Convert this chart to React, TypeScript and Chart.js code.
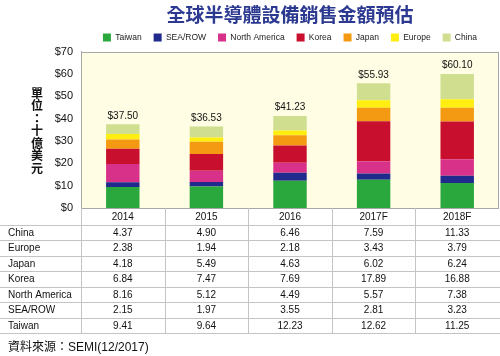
import { useEffect, useRef } from 'react';
import { Chart, registerables } from 'chart.js';

Chart.register(...registerables);

const titleText = '全球半導體設備銷售金額預估';
const yTitleChars = ['單', '位', '：', '十', '億', '美', '元'];
const sourceText = '資料來源：SEMI(12/2017)';

const categories = ['2014', '2015', '2016', '2017F', '2018F'];
const taiwan = [9.41, 9.64, 12.23, 12.62, 11.25];
const seaRow = [2.15, 1.97, 3.55, 2.81, 3.23];
const northAmerica = [8.16, 5.12, 4.49, 5.57, 7.38];
const korea = [6.84, 7.47, 7.69, 17.89, 16.88];
const japan = [4.18, 5.49, 4.63, 6.02, 6.24];
const europe = [2.38, 1.94, 2.18, 3.43, 3.79];
const china = [4.37, 4.9, 6.46, 7.59, 11.33];
const totals = [37.5, 36.53, 41.23, 55.93, 60.1];
const yMin = 0;
const yMax = 70;
const yStep = 10;

const seriesNames = ['Taiwan', 'SEA/ROW', 'North America', 'Korea', 'Japan', 'Europe', 'China'];
const seriesValues = [taiwan, seaRow, northAmerica, korea, japan, europe, china];
const seriesColors = ['#2BA83D', '#1F2A8C', '#D8318A', '#C8102E', '#F39A12', '#FFEE10', '#D0DE90'];
const tableRowOrder = ['China', 'Europe', 'Japan', 'Korea', 'North America', 'SEA/ROW', 'Taiwan'];

const FONT = '"Liberation Sans", Arial, sans-serif';
const CJK = '"Noto Sans CJK TC", "Noto Sans CJK SC", sans-serif';
const MIXED = '"Liberation Sans", "Noto Sans CJK TC", sans-serif';

const plotBgPlugin = {
  id: 'plotBg',
  beforeDraw(chart: any) {
    const { ctx, chartArea } = chart;
    ctx.save();
    ctx.fillStyle = '#FFFFFF';
    ctx.fillRect(0, 0, chart.width, chart.height);
    ctx.fillStyle = '#FFFDE3';
    ctx.fillRect(chartArea.left, chartArea.top, chartArea.right - chartArea.left, chartArea.bottom - chartArea.top);
    ctx.restore();
  },
};

const extrasPlugin = {
  id: 'extras',
  afterDraw(chart: any) {
    const { ctx, chartArea } = chart;
    const { left, right, top, bottom } = chartArea;
    const xs = chart.scales.x;
    const ys = chart.scales.y;
    ctx.save();

    // plot border
    ctx.strokeStyle = '#A8A8A8';
    ctx.lineWidth = 1;
    ctx.strokeRect(Math.round(left) + 0.5, Math.round(top) + 0.5, Math.round(right - left) - 1, Math.round(bottom - top));

    // totals above bars
    ctx.fillStyle = '#111';
    ctx.font = `10px ${FONT}`;
    ctx.textAlign = 'center';
    ctx.textBaseline = 'alphabetic';
    totals.forEach((t, i) => {
      const px = xs.getPixelForValue(i);
      const py = ys.getPixelForValue(t);
      ctx.fillText('$' + t.toFixed(2), px, py - 5.5);
    });

    // data table
    const headerH = 17;
    const rowH = 15.43;
    const tableTop = bottom + headerH;
    const tableBottom = tableTop + rowH * tableRowOrder.length;
    const step = xs.getPixelForValue(1) - xs.getPixelForValue(0);
    ctx.strokeStyle = '#C4C4C4';
    ctx.beginPath();
    for (let r = 0; r <= tableRowOrder.length; r++) {
      const y = Math.round(tableTop + r * rowH) + 0.5;
      ctx.moveTo(0, y);
      ctx.lineTo(chart.width, y);
    }
    for (let i = 0; i < categories.length; i++) {
      const x = Math.round(xs.getPixelForValue(i) - step / 2) + 0.5;
      ctx.moveTo(x, bottom);
      ctx.lineTo(x, tableBottom);
    }
    ctx.stroke();

    ctx.font = `10px ${FONT}`;
    ctx.textBaseline = 'middle';
    ctx.fillStyle = '#111';
    tableRowOrder.forEach((name, r) => {
      const cy = tableTop + r * rowH + rowH / 2 + 0.5;
      ctx.textAlign = 'left';
      ctx.fillText(name, 8, cy);
      const vals = seriesValues[seriesNames.indexOf(name)];
      ctx.textAlign = 'center';
      vals.forEach((v, i) => {
        ctx.fillText(v.toFixed(2), xs.getPixelForValue(i), cy);
      });
    });

    // vertical y title
    ctx.font = `bold 12px ${CJK}`;
    ctx.textAlign = 'center';
    ctx.textBaseline = 'middle';
    ctx.fillStyle = '#111';
    yTitleChars.forEach((c, k) => {
      ctx.fillText(c, 37, 93 + k * 12.5);
    });

    // source
    ctx.font = `12px ${MIXED}`;
    ctx.textAlign = 'left';
    ctx.textBaseline = 'middle';
    ctx.fillText(sourceText, 8, 348);

    ctx.restore();
  },
};

export default function App() {
  const ref = useRef<HTMLCanvasElement | null>(null);

  useEffect(() => {
    if (!ref.current) return;
    const chart = new Chart(ref.current, {
      type: 'bar',
      data: {
        labels: categories,
        datasets: seriesNames.map((name, i) => ({
          label: name,
          data: seriesValues[i],
          backgroundColor: seriesColors[i],
          borderWidth: 0,
          barPercentage: 0.4,
          categoryPercentage: 1,
        })),
      },
      options: {
        responsive: false,
        animation: false,
        layout: { padding: { left: 0, right: 1, top: 0, bottom: 0 } },
        plugins: {
          title: {
            display: true,
            text: titleText,
            fullSize: false,
            color: '#2B3990',
            font: { family: CJK, size: 19, weight: 'bold', lineHeight: 0.7 },
            padding: { top: 8, bottom: 0 },
          },
          legend: {
            display: true,
            fullSize: false,
            position: 'top',
            labels: {
              boxWidth: 8,
              boxHeight: 8,
              padding: 12,
              color: '#222',
              font: { family: FONT, size: 8.5 },
            },
          },
          tooltip: { enabled: false },
        },
        scales: {
          x: {
            stacked: true,
            grid: { display: false, drawTicks: false },
            border: { display: false },
            ticks: { color: '#111', font: { family: FONT, size: 10 }, padding: 3, maxRotation: 0 },
            afterFit(scale: any) {
              scale.height = 148;
            },
          },
          y: {
            stacked: true,
            min: yMin,
            max: yMax,
            grid: { display: false, drawTicks: false },
            border: { display: true, color: '#A8A8A8' },
            ticks: {
              stepSize: yStep,
              color: '#111',
              font: { family: FONT, size: 11 },
              padding: 8,
              callback: (v: any) => '$' + v,
            },
            afterFit(scale: any) {
              scale.width = 81;
            },
          },
        },
      },
      plugins: [plotBgPlugin, extrasPlugin],
    });
    return () => chart.destroy();
  }, []);

  return (
    <div style={{ position: 'absolute', left: 0, top: 0, width: 500, height: 356, background: '#fff' }}>
      <canvas ref={ref} width={500} height={356} style={{ width: 500, height: 356, display: 'block' }} />
    </div>
  );
}
